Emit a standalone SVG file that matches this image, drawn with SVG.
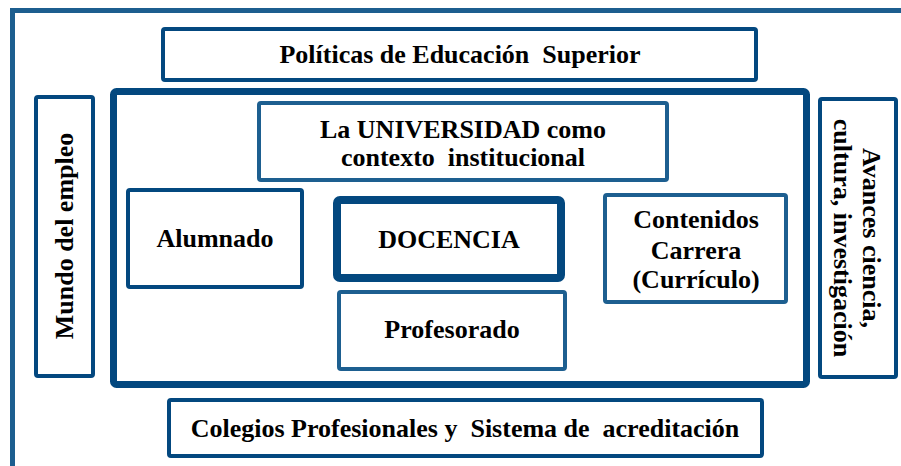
<svg xmlns="http://www.w3.org/2000/svg" width="901" height="466" viewBox="0 0 901 466">
<style>
.dark{fill:#fff;stroke:#03487f;stroke-width:4}
.light{fill:#fff;stroke:#1d5f90;stroke-width:4}
.t{font-family:'Liberation Serif',serif;font-weight:700;font-size:26px;fill:#000;text-anchor:middle;white-space:pre}
</style>
<rect width="901" height="466" fill="#fff"/>
<g id="frame"><path d="M12.5,470 V10.5 H905" fill="none" stroke="#1c5e8f" stroke-width="5"/></g>
<g id="politicas"><rect class="dark" x="163" y="29" width="593" height="51" rx="2"/><text class="t" font-family="Liberation Serif" x="460" y="63">Políticas de Educación  Superior</text></g>
<g id="universidad-frame"><rect class="dark" x="113.5" y="91.5" width="693" height="293" rx="3" style="stroke-width:7"/></g>
<g id="mundo"><rect class="dark" x="36" y="97" width="57" height="279" rx="2"/><text class="t" font-family="Liberation Serif" transform="translate(73,236) rotate(-90)">Mundo del empleo</text></g>
<g id="avances"><rect class="dark" x="820" y="99" width="76" height="278" rx="2"/><text class="t" font-family="Liberation Serif" transform="translate(863,238) rotate(90)"><tspan x="0" y="0">Avances ciencia,</tspan><tspan x="0" y="29">cultura, investigación</tspan></text></g>
<g id="universidad"><rect class="light" x="259" y="103" width="408" height="77" rx="2"/><text class="t" font-family="Liberation Serif" x="463" y="138">La UNIVERSIDAD como</text><text class="t" font-family="Liberation Serif" x="463" y="166">contexto  institucional</text></g>
<g id="alumnado"><rect class="dark" x="128" y="190" width="174" height="97" rx="2"/><text class="t" font-family="Liberation Serif" x="215" y="247">Alumnado</text></g>
<g id="docencia"><rect class="dark" x="337" y="200" width="224" height="78" rx="3" style="stroke-width:8"/><text class="t" font-family="Liberation Serif" x="449" y="248">DOCENCIA</text></g>
<g id="profesorado"><rect class="light" x="339" y="292" width="226" height="77" rx="2"/><text class="t" font-family="Liberation Serif" x="452" y="338">Profesorado</text></g>
<g id="contenidos"><rect class="light" x="605" y="195" width="181" height="107" rx="2"/><text class="t" font-family="Liberation Serif" x="696" y="228">Contenidos</text><text class="t" font-family="Liberation Serif" x="696" y="259">Carrera</text><text class="t" font-family="Liberation Serif" x="696" y="288">(Currículo)</text></g>
<g id="colegios"><rect class="dark" x="169" y="400" width="593" height="56" rx="2"/><text class="t" font-family="Liberation Serif" x="465" y="437">Colegios Profesionales y  Sistema de  acreditación</text></g>
<g id="connectors"></g>
</svg>
